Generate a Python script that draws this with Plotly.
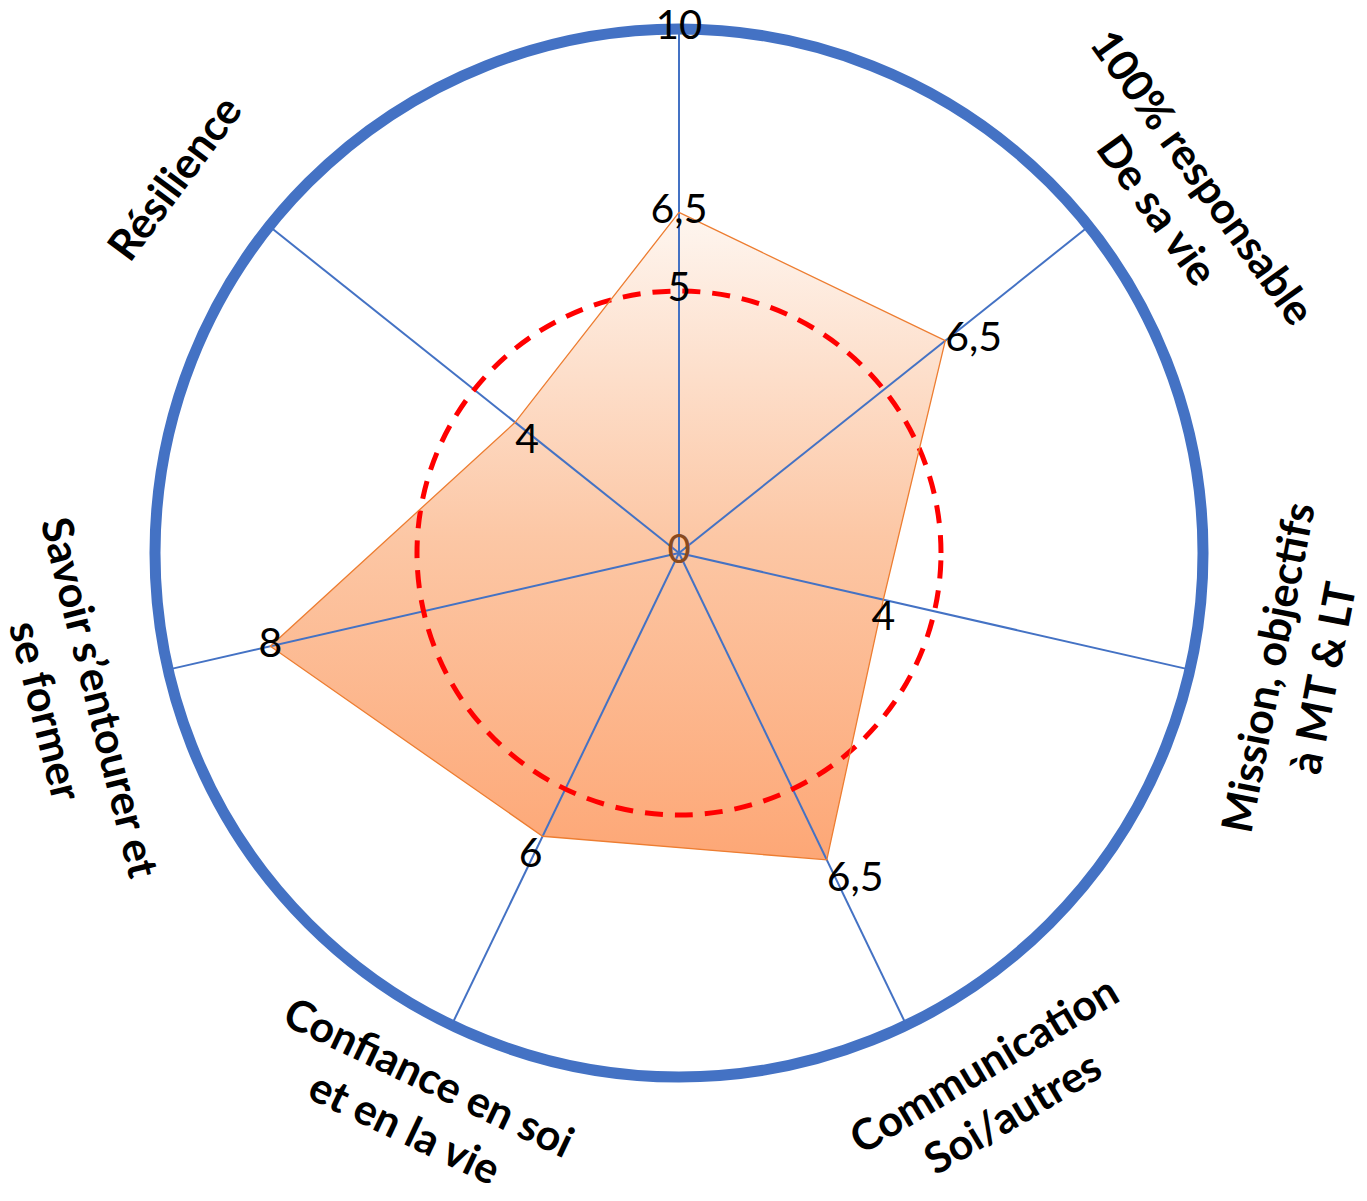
import numpy as np
import plotly.graph_objects as go

# ---------------- data ----------------
categories = [" ", "100% responsable", "Mission, objectifs", "Communication",
              "Confiance en soi", "Savoir s’entourer et", "Résilience"]
category_labels = ["", "100% responsable<br>De sa vie", "Mission, objectifs<br>à MT & LT",
                   "Communication<br>Soi/autres", "Confiance en soi<br>et en la vie",
                   "Savoir s’entourer et<br>se former", "Résilience"]
values = [6.5, 6.5, 4, 6.5, 6, 8, 4]
radial_ticks = [0, 5, 10]
reference_level = 5
radial_max = 10

# ---------------- style / layout ----------------
W, H = 1367, 1201
CX, CY, R = 679, 553, 524          # pixel centre and radius of the polar area
BLUE = "#4472C4"
ORANGE = "#ED7D31"
FONT = "Lato"
# placement of the category labels around the chart (compass degrees, px from centre)
label_angle = [0, 54.4, 101.0, 149.2, 205.5, 256.0, 306.6]
label_dist = [0, 618, 627, 622, 608, 624, 630]

xdom = [(CX - R) / W, (CX + R) / W]
ydom = [1 - (CY + R) / H, 1 - (CY - R) / H]
cx_paper, cy_paper = CX / W, 1 - CY / H

n = len(categories)
ang = np.deg2rad(np.arange(n) * 360.0 / n)   # clockwise from top
vals = np.array(values, dtype=float)


def fmt(v):
    return f"{v:g}".replace(".", ",")


value_text = [fmt(v) for v in values]
value_pos = ["middle center", "middle right", "bottom center", "bottom right",
             "bottom left", "middle center", "bottom right"]

fig = go.Figure()

# gradient fill of the series (cartesian projection of the polar values)
fig.add_trace(go.Scatter(
    x=vals * np.sin(ang), y=vals * np.cos(ang),
    mode="none", fill="toself",
    fillgradient=dict(type="vertical",
                      colorscale=[[0, "rgb(253,167,118)"],
                                  [0.5, "rgb(252,199,165)"],
                                  [1, "rgb(254,246,240)"]]),
    hoverinfo="skip", showlegend=False,
))

# radial tick labels 0 / 5 / 10 along first axis
fig.add_trace(go.Scatterpolar(
    r=radial_ticks, theta=[categories[0]] * len(radial_ticks),
    mode="text", text=[str(t) for t in radial_ticks],
    textposition="middle center",
    textfont=dict(family=FONT, size=40, color=["#8A4A1E", "black", "black"]),
    hoverinfo="skip", showlegend=False,
))

# series outline
fig.add_trace(go.Scatterpolar(
    r=values + [values[0]], theta=categories + [categories[0]],
    mode="lines", line=dict(color=ORANGE, width=1.3),
    hoverinfo="skip", showlegend=False,
))

# data labels
fig.add_trace(go.Scatterpolar(
    r=values, theta=categories, mode="text",
    text=value_text, textposition=value_pos,
    textfont=dict(family=FONT, size=41, color="black"),
    hoverinfo="skip", showlegend=False,
))

# category labels (rotated tangentially)
annotations = []
for i, lab in enumerate(category_labels):
    if not lab:
        continue
    th = label_angle[i]
    if 90 < th < 270:
        ta = th - 180
    else:
        ta = th if th <= 180 else th - 360
    annotations.append(dict(
        x=cx_paper, y=cy_paper, xref="paper", yref="paper",
        xshift=label_dist[i] * np.sin(np.deg2rad(th)),
        yshift=label_dist[i] * np.cos(np.deg2rad(th)),
        text=lab, showarrow=False, textangle=ta,
        xanchor="center", yanchor="middle", align="center",
        font=dict(family=FONT, size=43, color="black", weight="bold"),
    ))

fig.update_layout(
    width=W, height=H, autosize=False,
    margin=dict(l=0, r=0, t=0, b=0),
    paper_bgcolor="white", plot_bgcolor="rgba(0,0,0,0)",
    showlegend=False,
    xaxis=dict(domain=xdom, range=[-radial_max, radial_max], visible=False, fixedrange=True),
    yaxis=dict(domain=ydom, range=[-radial_max, radial_max], visible=False, fixedrange=True),
    polar=dict(
        domain=dict(x=xdom, y=ydom),
        bgcolor="rgba(0,0,0,0)",
        angularaxis=dict(
            type="category", categoryorder="array", categoryarray=categories,
            rotation=90, direction="clockwise",
            showline=True, linecolor=BLUE, linewidth=11,
            showgrid=True, gridcolor=BLUE, gridwidth=2,
            ticks="", showticklabels=False, layer="below traces",
        ),
        radialaxis=dict(
            range=[0, radial_max], tickvals=[reference_level],
            showgrid=True, gridcolor="red", gridwidth=4.5, griddash="18px,12px",
            showline=False, showticklabels=False, ticks="", layer="below traces",
        ),
    ),
    annotations=annotations,
)

fig.write_html("out.html")
